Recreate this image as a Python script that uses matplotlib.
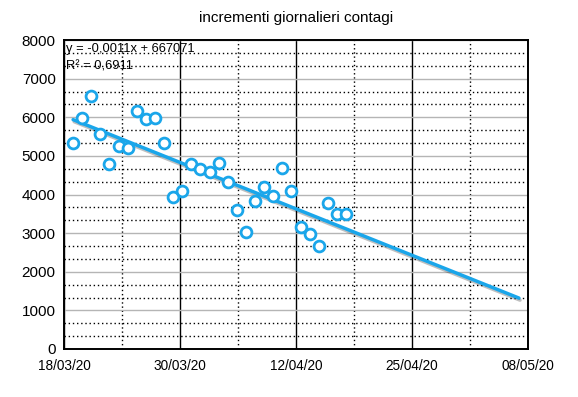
import datetime as dt
import numpy as np
import matplotlib; matplotlib.use("Agg")
import matplotlib.pyplot as plt
import matplotlib.dates as mdates
import matplotlib.patheffects as pe

plt.rcParams["font.family"] = ["Liberation Sans", "DejaVu Sans"]

# daily increments, 19/03/20 .. 18/04/20
start = dt.date(2020, 3, 19)
values = [5322, 5986, 6557, 5560, 4789, 5249, 5210, 6153, 5959, 5974,
          5330, 3940, 4080, 4782, 4668, 4585, 4805, 4316, 3599, 3039,
          3836, 4204, 3951, 4694, 4092, 3153, 2972, 2667, 3786, 3493, 3491]
dates = [start + dt.timedelta(days=i) for i in range(len(values))]
trend_end = dt.date(2020, 5, 7)
eq_text = "y = -0,0011x + 667071"
r2_text = "R² = 0,6911"
title = "incrementi giornalieri contagi"

blue = "#1aa6ea"
x = mdates.date2num(dates)
y = np.array(values)
k, q = np.polyfit(x, y, 1)
xt = np.array([x[0], mdates.date2num(trend_end)])

fig = plt.figure(figsize=(5.78, 3.97), dpi=100)
ax = fig.add_axes([64/578, 1-349/397, (528-64)/578, (349-40)/397])

x0 = mdates.date2num(dt.date(2020, 3, 18)); x1 = mdates.date2num(dt.date(2020, 5, 8))
ax.set_xlim(x0, x1); ax.set_ylim(0, 8000)
major = np.linspace(x0, x1, 5)
ax.set_xticks(major)
ax.set_xticks((major[:-1] + major[1:]) / 2, minor=True)
ax.set_xticklabels([mdates.num2date(m + 0.01).strftime("%d/%m/%y") for m in major], fontsize=9.8)
ax.set_yticks(np.arange(0, 8001, 1000))
ax.set_yticks([v for v in np.arange(0, 8000, 1000/3) if v % 1000 > 1], minor=True)
ax.tick_params(axis="y", labelsize=11, length=0, pad=6)
ax.tick_params(axis="x", length=0, pad=7)
ax.tick_params(which="minor", length=0)

ax.grid(axis="x", which="major", color="black", lw=1)
ax.grid(axis="x", which="minor", color="black", lw=1, ls=(0, (1, 2)))
ax.grid(axis="y", which="major", color="#b5b5b5", lw=1)
ax.grid(axis="y", which="minor", color="black", lw=1, ls=(0, (1, 2)))
ax.set_axisbelow(True)
for s in ax.spines.values():
    s.set_linewidth(1.4)

ax.plot(xt, k*xt + q, color=blue, lw=2.5, solid_capstyle="round",
        path_effects=[pe.SimpleLineShadow(offset=(0.8, -1.5), alpha=0.25), pe.Normal()])
ax.plot(x, y, "o", ms=7.8, mfc="white", mec=blue, mew=2)

ax.text(0.005, 0.99, eq_text, transform=ax.transAxes, fontsize=9.3, va="top", ha="left")
ax.text(0.005, 0.935, r2_text, transform=ax.transAxes, fontsize=9.3, va="top", ha="left")
fig.text(296/578, 1-18/397, title, ha="center", va="center", fontsize=11)

fig.savefig("out.png", dpi=100)
